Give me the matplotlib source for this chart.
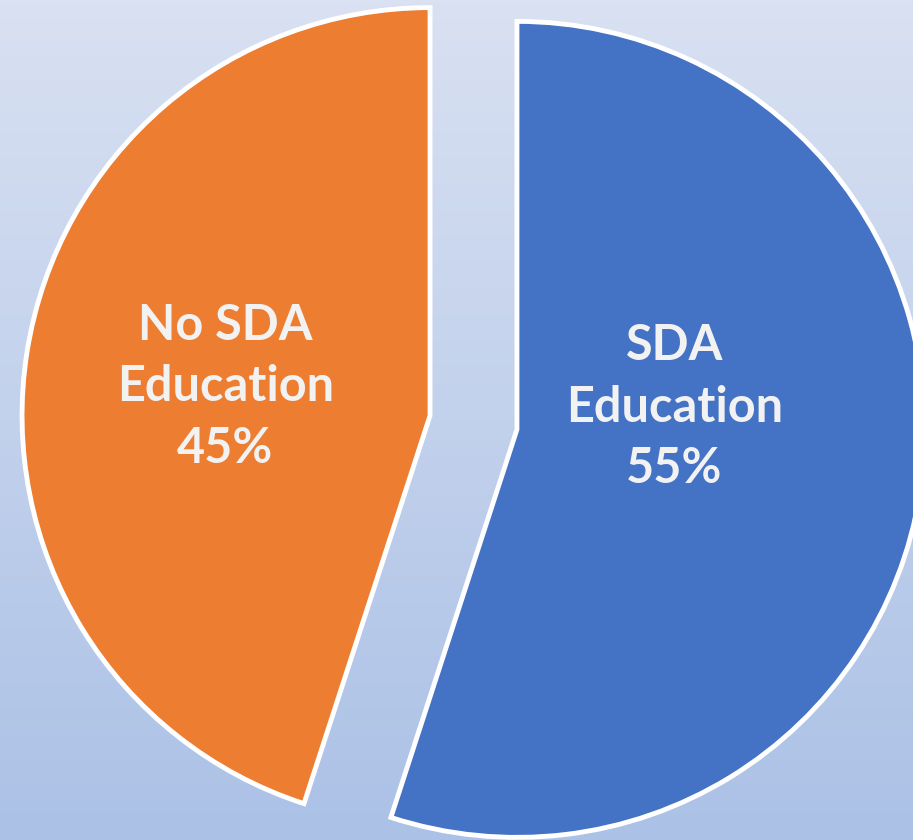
# Exploded two-slice pie on a soft blue gradient background
import numpy as np
import matplotlib.pyplot as plt

labels = ["SDA\nEducation", "No SDA\nEducation"]
shares = [55, 45]
colors = ["#4472C4", "#ED7D31"]
# where each label sits, measured from its slice's tip
label_dist = [0.39, 0.507]   # fraction of radius
label_angle = [8, 172]       # degrees

W, H = 913, 840
fig = plt.figure(figsize=(W / 100, H / 100), dpi=100)
ax = fig.add_axes([0, 0, 1, 1])

# vertical gradient, lighter at the top
grad = np.linspace(0, 1, 256).reshape(-1, 1)
top = np.array([217, 225, 242]) / 255
bottom = np.array([171, 193, 230]) / 255
img = top + (bottom - top) * grad[:, :, None]
ax.imshow(img, extent=[0, W, 0, H], origin="upper", aspect="auto", zorder=0)

radius = 408
wedges, texts = ax.pie(
    shares,
    colors=colors,
    startangle=90,
    counterclock=False,
    explode=[44, 44],
    center=(473.5, H - 422.5),
    radius=radius,
    labels=[f"{l}\n{s}%" for l, s in zip(labels, shares)],
    labeldistance=0.5,
    wedgeprops=dict(edgecolor="white", linewidth=3.5),
    textprops=dict(color="#F2F2F2", fontsize=35, fontweight="bold",
                   family="Lato", ha="center", va="center", linespacing=1.45),
    frame=True,
)

for w, t, d, a in zip(wedges, texts, label_dist, label_angle):
    w.set_zorder(2)
    t.set_zorder(3)
    ang = np.deg2rad(a)
    cx, cy = w.center
    t.set_position((cx + d * radius * np.cos(ang), cy + d * radius * np.sin(ang)))

ax.set_xlim(0, W)
ax.set_ylim(0, H)
ax.axis("off")

fig.savefig("out.png", dpi=100)
